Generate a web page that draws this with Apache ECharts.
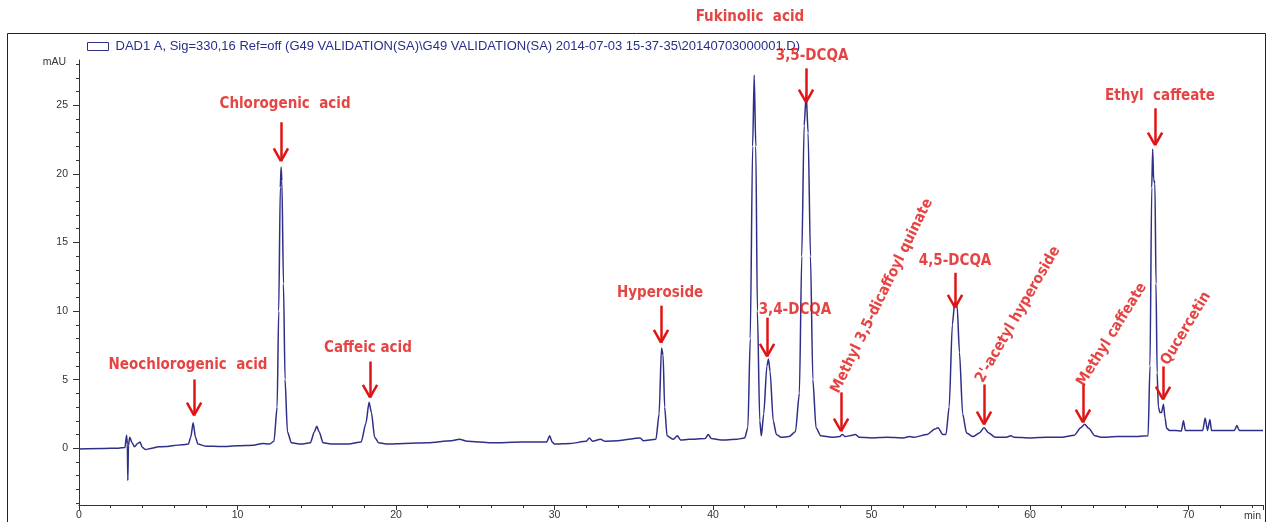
<!DOCTYPE html>
<html>
<head>
<meta charset="utf-8">
<script src="https://cdn.jsdelivr.net/npm/echarts@6/dist/echarts.min.js"></script>
<style>
html,body{margin:0;padding:0;background:#fff;}
#chart{width:1269px;height:522px;}
</style>
</head>
<body>
<div id="chart"></div>
<script>
// ---- Chromatogram trace (retention time in min, absorbance in mAU) ----
const traceName = 'DAD1 A, Sig=330,16 Ref=off (G49 VALIDATION(SA)\\G49 VALIDATION(SA) 2014-07-03 15-37-35\\20140703000001.D)';
const times = [
  0, 1.5, 2.5, 2.9, 3.0, 3.05, 3.08, 3.12, 3.2, 3.35, 3.5, 3.7, 3.85, 4.0, 4.2, 4.6, 5.0, 5.5, 6.0, 6.5,
  6.9, 7.05, 7.2, 7.35, 7.5, 8.0, 9.0, 10.0, 11.0, 11.6, 12.0, 12.3, 12.5, 12.6, 12.7, 12.75, 12.8, 12.9, 13.0, 13.15,
  13.4, 14.0, 14.6, 14.85, 15.0, 15.15, 15.4, 16.0, 17.0, 17.8, 18.1, 18.3, 18.45, 18.65, 18.9, 19.5, 20.5, 22.0, 23.5, 24.0,
  24.5, 26.0, 28.0, 29.5, 29.7, 29.85, 30.0, 31.0, 32.0, 32.2, 32.4, 32.9, 33.2, 34.0, 35.4, 35.6, 36.4, 36.6, 36.75, 36.85,
  36.95, 37.1, 37.5, 37.75, 37.95, 38.5, 39.5, 39.7, 39.9, 40.5, 41.5, 42.0, 42.2, 42.35, 42.5, 42.6, 42.7, 42.8, 42.95, 43.05,
  43.2, 43.4, 43.5, 43.6, 43.8, 44.0, 44.3, 44.8, 45.2, 45.45, 45.6, 45.75, 45.88, 46.0, 46.15, 46.3, 46.5, 46.8, 47.5, 48.0,
  48.15, 48.35, 48.8, 49.0, 49.2, 50.0, 51.0, 52.0, 52.4, 52.7, 53.5, 54.0, 54.2, 54.5, 54.7, 54.9, 55.1, 55.25, 55.4, 55.55,
  55.75, 56.0, 56.4, 56.8, 57.1, 57.4, 57.8, 58.5, 58.8, 59.0, 60.0, 61.0, 62.0, 62.8, 63.2, 63.45, 63.7, 64.1, 64.5, 65.5,
  66.5, 67.45, 67.57, 67.68, 67.74, 67.8, 67.88, 67.95, 68.02, 68.1, 68.2, 68.3, 68.42, 68.52, 68.62, 68.8, 69.2, 69.55, 69.68, 69.8,
  70.3, 70.9, 71.05, 71.2, 71.35, 71.45, 71.6, 72.3, 72.9, 73.05, 73.2, 74.0, 74.7
];
const signal = [
  -0.05, -0.02, 0.0, 0.05, 0.95, 0.3, -2.35, 0.2, 0.8, 0.4, 0.1, 0.35, 0.45, 0.05, -0.1, 0.0, 0.1, 0.12, 0.2, 0.25,
  0.3, 0.8, 1.85, 0.8, 0.3, 0.15, 0.12, 0.18, 0.22, 0.35, 0.3, 0.5, 3.0, 10.0, 19.0, 20.5, 19.5, 12.0, 5.0, 1.2,
  0.4, 0.3, 0.4, 1.2, 1.6, 1.2, 0.4, 0.3, 0.3, 0.45, 1.8, 3.35, 2.6, 0.8, 0.4, 0.3, 0.35, 0.4, 0.55, 0.65,
  0.5, 0.4, 0.45, 0.45, 0.9, 0.45, 0.3, 0.35, 0.5, 0.75, 0.5, 0.65, 0.5, 0.55, 0.75, 0.55, 0.65, 2.5, 7.3, 6.8,
  3.0, 0.9, 0.65, 0.9, 0.6, 0.65, 0.7, 1.0, 0.7, 0.6, 0.65, 0.75, 1.5, 8.0, 22.0, 27.2, 22.0, 10.0, 2.0, 0.9,
  2.5, 6.0, 6.5, 5.6, 2.0, 1.0, 0.8, 0.85, 1.2, 4.0, 14.0, 23.5, 25.8, 23.0, 14.0, 5.0, 1.5, 0.9, 0.8, 0.85,
  1.0, 0.85, 0.95, 1.0, 0.8, 0.75, 0.8, 0.75, 0.85, 0.8, 1.0, 1.4, 1.5, 1.0, 1.0, 3.0, 9.0, 10.6, 10.4, 7.0,
  2.5, 1.1, 0.85, 1.1, 1.5, 1.1, 0.8, 0.8, 0.9, 0.8, 0.75, 0.8, 0.8, 0.95, 1.5, 1.75, 1.45, 0.9, 0.8, 0.85,
  0.85, 0.9, 6.0, 19.0, 21.8, 19.6, 19.3, 12.0, 5.5, 3.0, 2.6, 2.6, 3.2, 2.2, 1.45, 1.3, 1.3, 1.25, 2.0, 1.3,
  1.3, 1.3, 2.2, 1.3, 2.1, 1.3, 1.3, 1.3, 1.3, 1.65, 1.3, 1.3, 1.3
];

// ---- Axis ticks ----
const xMajorTicks = [0, 10, 20, 30, 40, 50, 60, 70];
const yMajorTicks = [0, 5, 10, 15, 20, 25];
const yMinorTicks = [-4, -3, -2, -1, 0, 1, 2, 3, 4, 5, 6, 7, 8, 9, 10, 11, 12, 13, 14, 15, 16, 17, 18, 19, 20, 21, 22, 23, 24, 25, 26, 27, 28];

// ---- Peak annotations (data units) ----
const peakNames = ['Neochlorogenic  acid', 'Chlorogenic  acid', 'Caffeic acid', 'Hyperoside', 'Fukinolic  acid', '3,5-DCQA', '3,4-DCQA',
  'Methyl 3,5-dicaffoyl quinate', '4,5-DCQA', "2'-acetyl hyperoside", 'Methyl caffeate', 'Ethyl  caffeate', 'Qucercetin'];
const labelX = [6.88, 13.0, 18.23, 36.66, 42.33, 46.25, 45.17, 50.66, 55.27, 59.24, 65.17, 68.2, 69.84];
const labelY = [6.03, 25.07, 7.27, 11.34, 31.4, 28.56, 10.1, 11.1, 13.66, 9.74, 8.28, 25.65, 8.72];
const labelAngle = [0, 0, 0, 0, 0, 0, 0, 64, 0, 60, 58, 0, 59];
const arrowX = [7.26, 12.74, 18.36, 36.72, 42.59, 45.87, 43.41, 48.08, 55.27, 57.1, 63.34, 67.89, 68.39];
const arrowTop = [5.01, 23.76, 6.32, 10.39, 30.45, 27.69, 9.52, 4.07, 12.79, 4.65, 4.65, 24.78, 5.96];
const arrowTip = [2.4, 20.93, 3.7, 7.7, 27.54, 25.22, 6.69, 1.24, 10.25, 1.74, 1.89, 22.09, 3.56];

const RED = '#e01414';
const TRACE = '#2f2f88';
const AXIS = '#333';

const traceData = times.map((t, i) => [t, signal[i]]);

// arrow segments: shaft + two chevron legs
const headW = 0.45, headH = 0.92;
const arrowSegs = [];
arrowX.forEach((x, i) => {
  arrowSegs.push([{coord: [x, arrowTop[i]]}, {coord: [x, arrowTip[i]]}]);
  arrowSegs.push([{coord: [x - headW, arrowTip[i] + headH]}, {coord: [x, arrowTip[i]]}]);
  arrowSegs.push([{coord: [x + headW, arrowTip[i] + headH]}, {coord: [x, arrowTip[i]]}]);
});

const labelData = peakNames.map((n, i) => ({
  name: n,
  value: [labelX[i], labelY[i]],
  label: {rotate: labelAngle[i]}
}));

const chart = echarts.init(document.getElementById('chart'), null, {renderer: 'canvas'});
const option = {
  animation: false,
  backgroundColor: '#fff',
  graphic: [{
    type: 'rect', shape: {x: 7.5, y: 33.5, width: 1258, height: 500},
    style: {fill: 'none', stroke: '#222', lineWidth: 1}, z: 0, silent: true
  }],
  legend: {
    data: [traceName],
    left: 82, top: 35,
    icon: 'rect', itemWidth: 21, itemHeight: 8,
    itemStyle: {color: '#fff', borderColor: TRACE, borderWidth: 1},
    textStyle: {fontFamily: 'Liberation Sans, Arial, sans-serif', fontSize: 13, color: '#26308a', padding: [0, 0, 0, 2]}
  },
  grid: {left: 79, right: 6, top: 60, bottom: 16, containLabel: false},
  xAxis: {
    type: 'value', min: 0, max: 74.7, interval: 10,
    name: 'min', nameLocation: 'end', nameGap: -2,
    nameTextStyle: {fontFamily: 'Liberation Sans, Arial, sans-serif', fontSize: 10.5, color: AXIS, align: 'right', verticalAlign: 'top', padding: [6, 0, 0, 0]},
    axisLine: {onZero: false, lineStyle: {color: AXIS, width: 1}},
    axisTick: {show: true, inside: false, length: 5, lineStyle: {color: AXIS}},
    minorTick: {show: true, splitNumber: 5, length: 3, lineStyle: {color: AXIS}},
    axisLabel: {
      margin: 5, fontFamily: 'Liberation Sans, Arial, sans-serif', fontSize: 10.5, color: AXIS,
      customValues: xMajorTicks
    },
    splitLine: {show: false}
  },
  yAxis: [{
    type: 'value', min: -4.14, max: 28.3,
    name: 'mAU', nameLocation: 'end', nameGap: -2,
    nameTextStyle: {fontFamily: 'Liberation Sans, Arial, sans-serif', fontSize: 10.5, color: AXIS, align: 'right', verticalAlign: 'middle', padding: [0, 13, 0, 0]},
    axisLine: {show: true, lineStyle: {color: AXIS, width: 1}},
    axisTick: {show: true, length: 6, customValues: yMajorTicks, lineStyle: {color: AXIS}},
    axisLabel: {margin: 11, fontFamily: 'Liberation Sans, Arial, sans-serif', fontSize: 10.5, color: AXIS, customValues: yMajorTicks},
    splitLine: {show: false}
  }, {
    type: 'value', min: -4.14, max: 28.3, position: 'left',
    axisLine: {show: false},
    axisTick: {show: true, length: 3, customValues: yMinorTicks, lineStyle: {color: AXIS}},
    axisLabel: {show: false, customValues: yMinorTicks},
    splitLine: {show: false}
  }],
  series: [{
    name: traceName,
    type: 'line',
    data: traceData,
    showSymbol: false,
    symbol: 'none',
    smooth: 0.25,
    smoothMonotone: 'x',
    lineStyle: {color: TRACE, width: 1.5},
    itemStyle: {color: TRACE},
    z: 3
  }, {
    name: 'arrows',
    type: 'line',
    data: [],
    clip: false,
    z: 5,
    markLine: {
      silent: true,
      symbol: ['none', 'none'],
      lineStyle: {color: RED, width: 2.5, type: 'solid'},
      label: {show: false},
      emphasis: {disabled: true},
      data: arrowSegs
    }
  }, {
    name: 'labels',
    type: 'scatter',
    data: labelData,
    symbolSize: 0,
    clip: false,
    z: 6,
    silent: true,
    label: {
      show: true, position: 'inside', formatter: '{b}',
      align: 'center', verticalAlign: 'middle',
      color: RED, fontWeight: 'bold', fontSize: 15,
      fontFamily: '"Liberation Sans Narrow", "Arial Narrow", "DejaVu Sans Condensed", sans-serif'
    }
  }]
};
chart.setOption(option);
</script>
</body>
</html>
